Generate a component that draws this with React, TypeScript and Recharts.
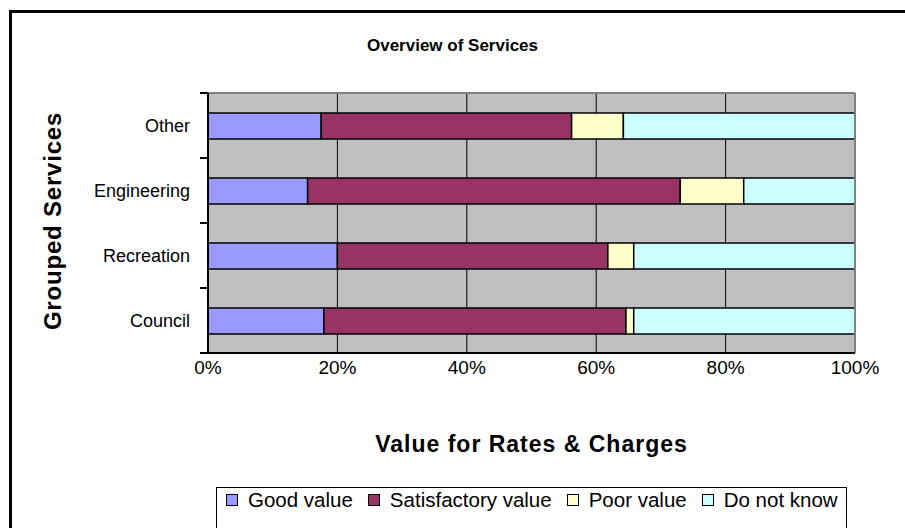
import { BarChart, Bar, XAxis, YAxis, CartesianGrid, ReferenceLine } from "recharts";

const categories = ["Other", "Engineering", "Recreation", "Council"];
const goodValue = [17.5, 15.4, 20.0, 17.9];
const satisfactoryValue = [38.7, 57.6, 41.8, 46.7];
const poorValue = [8.0, 9.8, 4.0, 1.2];
const doNotKnow = [35.8, 17.2, 34.2, 34.2];
const xTicks = [0, 20, 40, 60, 80, 100];

const series = [
  { key: "good", name: "Good value", color: "#9999FF", values: goodValue },
  { key: "satisfactory", name: "Satisfactory value", color: "#993366", values: satisfactoryValue },
  { key: "poor", name: "Poor value", color: "#FFFFCC", values: poorValue },
  { key: "unknown", name: "Do not know", color: "#CCFFFF", values: doNotKnow },
];

const data = categories.map((name, i) => {
  const row: any = { name };
  series.forEach((s) => (row[s.key] = s.values[i]));
  return row;
});

const font = "Arial, 'Liberation Sans', sans-serif";
const TICK_SIZE = 8;
const TICK_MARGIN = 10;

// Excel puts category ticks between the bands, not at their centres
function CategoryTick(props: any) {
  const { x, y, payload, index, visibleTicksCount } = props;
  const half = payload.offset || 0;
  const axisX = x + TICK_MARGIN + TICK_SIZE;
  return (
    <g>
      <line x1={axisX - TICK_SIZE} x2={axisX} y1={y - half} y2={y - half} stroke="#000" strokeWidth={2} />
      {index === visibleTicksCount - 1 && (
        <line x1={axisX - TICK_SIZE} x2={axisX} y1={y + half} y2={y + half} stroke="#000" strokeWidth={2} />
      )}
      <text x={x} y={y} dy="0.355em" textAnchor="end" fill="#000" fontSize={18} fontFamily={font}>
        {payload.value}
      </text>
    </g>
  );
}

export default function App() {
  return (
    <div
      style={{
        position: "absolute",
        left: 0,
        top: 0,
        width: 905,
        height: 528,
        overflow: "hidden",
        background: "#fff",
        fontFamily: font,
      }}
    >
      <div
        style={{
          position: "absolute",
          left: 9,
          top: 10,
          width: 905,
          height: 528,
          border: "3px solid #000",
        }}
      />
      <div
        style={{
          position: "absolute",
          left: 0,
          width: 905,
          top: 36,
          textAlign: "center",
          fontWeight: "bold",
          fontSize: 17,
        }}
      >
        Overview of Services
      </div>

      <div style={{ position: "absolute", left: 0, top: 0 }}>
        <BarChart
          width={905}
          height={528}
          data={data}
          layout="vertical"
          margin={{ top: 93, right: 50, left: 0, bottom: 145 }}
          barSize={26}
        >
          <CartesianGrid
            fill="#C0C0C0"
            stroke="#000"
            strokeWidth={1}
            horizontal={false}
            vertical={true}
          />
          <CartesianGrid
            stroke="#808080"
            strokeWidth={2}
            vertical={false}
            horizontalCoordinatesGenerator={({ offset }: any) => [offset.top]}
          />
          <XAxis
            type="number"
            domain={[0, 100]}
            ticks={xTicks}
            tickFormatter={(v) => v + "%"}
            axisLine={{ stroke: "#000", strokeWidth: 2 }}
            tickLine={false}
            tick={{ fill: "#000", fontSize: 19, fontFamily: font }}
            height={30}
            interval={0}
          />
          <YAxis
            type="category"
            dataKey="name"
            width={208}
            axisLine={{ stroke: "#000", strokeWidth: 2 }}
            tickLine={false}
            tickSize={TICK_SIZE}
            tickMargin={TICK_MARGIN}
            tick={<CategoryTick />}
            interval={0}
          />
          <ReferenceLine x={100} stroke="#808080" strokeWidth={2} />
          {series.map((s) => (
            <Bar
              key={s.key}
              dataKey={s.key}
              name={s.name}
              stackId="a"
              fill={s.color}
              stroke="#000"
              strokeWidth={1.5}
              isAnimationActive={false}
            />
          ))}
        </BarChart>
      </div>

      <div
        style={{
          position: "absolute",
          left: 208,
          width: 647,
          top: 431,
          textAlign: "center",
          fontWeight: "bold",
          fontSize: 23,
          letterSpacing: 1,
        }}
      >
        Value for Rates &amp; Charges
      </div>
      <div
        style={{
          position: "absolute",
          left: 53,
          top: 221,
          transform: "translate(-50%, -50%) rotate(-90deg)",
          whiteSpace: "nowrap",
          fontWeight: "bold",
          fontSize: 24,
          letterSpacing: 0.8,
        }}
      >
        Grouped Services
      </div>

      <div
        style={{
          position: "absolute",
          left: 216,
          top: 487,
          width: 631,
          height: 60,
          border: "1.5px solid #000",
          boxSizing: "border-box",
          display: "flex",
          alignItems: "flex-start",
          paddingLeft: 9,
          paddingTop: 0,
          fontSize: 20.5,
          whiteSpace: "nowrap",
        }}
      >
        {series.map((s) => (
          <div
            key={s.key}
            style={{ display: "flex", alignItems: "center", marginRight: 15, flexShrink: 0 }}
          >
            <span
              style={{
                display: "inline-block",
                width: 10,
                height: 10,
                background: s.color,
                border: "1px solid #000",
                marginRight: 10,
              }}
            />
            <span>{s.name}</span>
          </div>
        ))}
      </div>
    </div>
  );
}
